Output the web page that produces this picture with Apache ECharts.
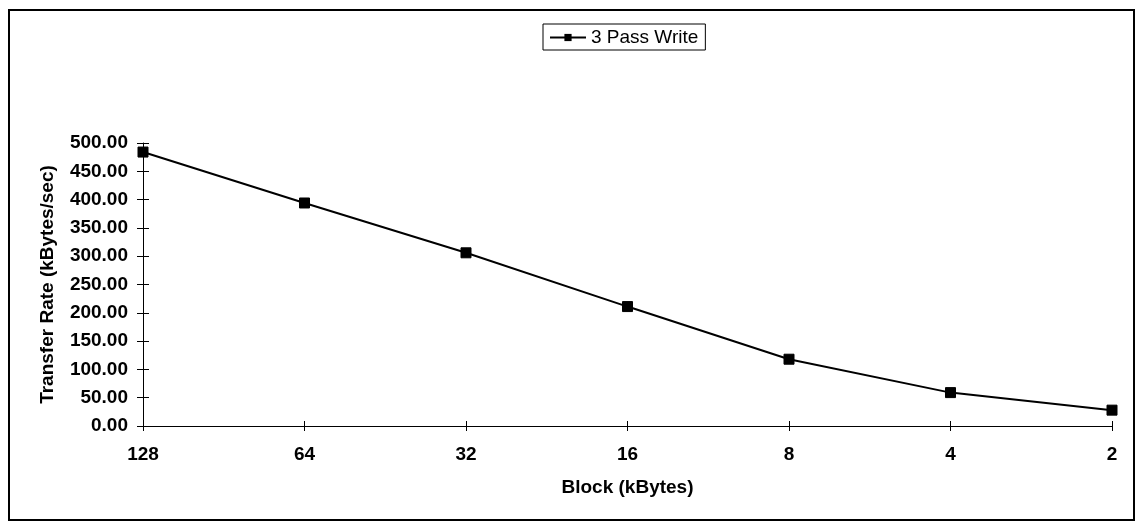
<!DOCTYPE html>
<html>
<head>
<meta charset="utf-8">
<script src="https://cdn.jsdelivr.net/npm/echarts@6/dist/echarts.min.js"></script>
<style>
  html, body { margin: 0; padding: 0; background: #fff; }
  #chart { width: 1142px; height: 529px; }
</style>
</head>
<body>
<div id="chart"></div>
<script>
// data
var blockSizes = ["128", "64", "32", "16", "8", "4", "2"];
var writeRates = [484, 394, 306, 211, 118, 59, 28];
var seriesName = "3 Pass Write";

var myChart = echarts.init(document.getElementById("chart"));

var fontFamily = "Liberation Sans, Arial, sans-serif";
var labelFont = { fontFamily: fontFamily, fontSize: 19, fontWeight: "bold", color: "#000" };

myChart.setOption({
  backgroundColor: "#fff",
  animation: false,
  graphic: [
    {
      type: "rect",
      shape: { x: 9, y: 10, width: 1125, height: 510 },
      style: { fill: "none", stroke: "#000", lineWidth: 2 },
      silent: true,
    },
  ],
  legend: {
    top: 24,
    left: 543,
    data: [seriesName],
    itemWidth: 36,
    itemHeight: 9,
    itemGap: 4,
    padding: [4, 7, 3, 6],
    borderColor: "#000",
    borderWidth: 1,
    textStyle: { fontFamily: fontFamily, fontSize: 19, color: "#000" },
  },
  grid: { left: 143, right: 30, top: 143, bottom: 103 },
  xAxis: [
    {
      type: "category",
      data: blockSizes,
      boundaryGap: false,
      name: "Block (kBytes)",
      nameLocation: "middle",
      nameGap: 52,
      nameTextStyle: labelFont,
      axisLine: { lineStyle: { color: "#000", width: 1 } },
      axisTick: { show: true, length: 5, lineStyle: { color: "#000" } },
      axisLabel: Object.assign({ margin: 19 }, labelFont),
      splitLine: { show: false },
    },
    {
      // inside half of the crossing ticks
      type: "category",
      data: blockSizes,
      boundaryGap: false,
      position: "bottom",
      axisLine: { show: false },
      axisTick: { show: true, inside: true, length: 5, lineStyle: { color: "#000" } },
      axisLabel: { show: false },
      splitLine: { show: false },
    },
  ],
  yAxis: [
    {
      type: "value",
      min: 0,
      max: 500,
      interval: 50,
      name: "Transfer Rate (kBytes/sec)",
      nameLocation: "middle",
      nameGap: 86,
      nameTextStyle: labelFont,
      axisLine: { show: true, lineStyle: { color: "#000", width: 1 } },
      axisTick: { show: true, length: 6, lineStyle: { color: "#000" } },
      axisLabel: Object.assign({
        margin: 15,
        formatter: function (v) { return v.toFixed(2); },
      }, labelFont),
      splitLine: { show: false },
    },
    {
      type: "value",
      min: 0,
      max: 500,
      interval: 50,
      position: "left",
      axisLine: { show: false },
      axisTick: { show: true, inside: true, length: 6, lineStyle: { color: "#000" } },
      axisLabel: { show: false },
      splitLine: { show: false },
    },
  ],
  series: [
    {
      name: seriesName,
      type: "line",
      data: writeRates,
      symbol: "rect",
      symbolSize: 10,
      itemStyle: { color: "#000", borderColor: "#000" },
      lineStyle: { color: "#000", width: 2 },
    },
  ],
});

window.addEventListener("resize", function () {
  if (myChart != null && myChart != undefined) {
    myChart.resize();
  }
});
</script>
</body>
</html>
